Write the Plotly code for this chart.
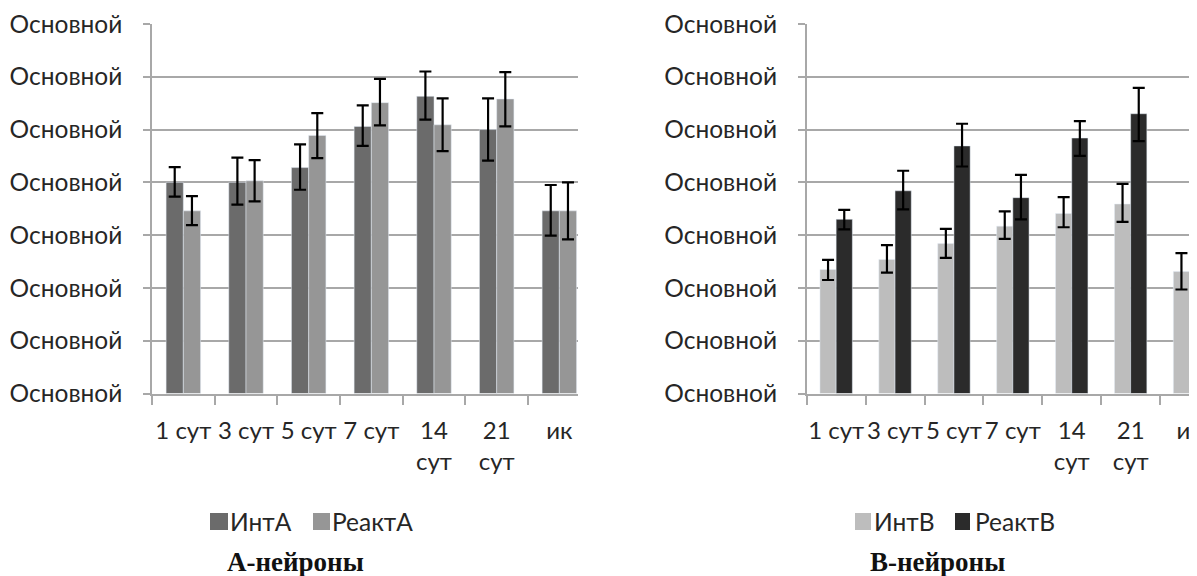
import plotly.graph_objects as go

W, H = 1197, 576
OFF = 8  # page body margin

categories = ["1 сут", "3 сут", "5 сут", "7 сут", "14 сут", "21 сут", "ик"]
tick_labels = ["1 сут", "3 сут", "5 сут", "7 сут", "14<br>сут", "21<br>сут", "ик"]
y_tick_values = [0, 1, 2, 3, 4, 5, 6, 7]
y_tick_labels = ["Основной"] * 8

# A-neurons
int_a = [4.00, 4.00, 4.28, 5.06, 5.63, 5.00, 3.46]
int_a_err_plus = [0.29, 0.47, 0.44, 0.40, 0.47, 0.59, 0.49]
int_a_err_minus = [0.27, 0.42, 0.42, 0.37, 0.44, 0.59, 0.47]
react_a = [3.46, 4.03, 4.89, 5.51, 5.09, 5.58, 3.46]
react_a_err_plus = [0.28, 0.39, 0.42, 0.45, 0.50, 0.51, 0.54]
react_a_err_minus = [0.27, 0.39, 0.43, 0.43, 0.50, 0.52, 0.54]

# B-neurons
int_b = [2.35, 2.54, 2.84, 3.17, 3.41, 3.59, 2.31]
int_b_err_plus = [0.18, 0.27, 0.28, 0.28, 0.31, 0.38, 0.35]
int_b_err_minus = [0.20, 0.25, 0.27, 0.24, 0.26, 0.34, 0.34]
react_b = [3.30, 3.84, 4.69, 3.71, 4.84, 5.30, 2.31]
react_b_err_plus = [0.18, 0.38, 0.42, 0.43, 0.32, 0.49, 0.50]
react_b_err_minus = [0.19, 0.35, 0.39, 0.41, 0.34, 0.52, 0.52]

series_names = ["ИнтА", "РеактА", "ИнтB", "РеактB"]
colors = ["#6b6b6b", "#969696", "#bdbdbd", "#2b2b2b"]
panel_titles = ["А-нейроны", "В-нейроны"]

FONT = "Lato"
TXT = "#262626"
GRID = "#a8a8a8"


def px(x):
    return (x - OFF) / W


def py(y):
    return 1 - (y - OFF) / H


def err(plus, minus):
    return dict(type="data", array=plus, arrayminus=minus, symmetric=False,
                color="black", thickness=2.2, width=6)


fig = go.Figure()
fig.add_trace(go.Bar(x=tick_labels, y=int_a, name=series_names[0], marker_color=colors[0],
                     error_y=err(int_a_err_plus, int_a_err_minus), xaxis="x", yaxis="y",
                     showlegend=False))
fig.add_trace(go.Bar(x=tick_labels, y=react_a, name=series_names[1], marker_color=colors[1],
                     error_y=err(react_a_err_plus, react_a_err_minus), xaxis="x", yaxis="y",
                     showlegend=False))
fig.add_trace(go.Bar(x=tick_labels, y=int_b, name=series_names[2], marker_color=colors[2],
                     error_y=err(int_b_err_plus, int_b_err_minus), xaxis="x2", yaxis="y2",
                     showlegend=False))
fig.add_trace(go.Bar(x=tick_labels, y=react_b, name=series_names[3], marker_color=colors[3],
                     error_y=err(react_b_err_plus, react_b_err_minus), xaxis="x2", yaxis="y2",
                     showlegend=False))

ydom = [py(393.5), py(24)]

xcommon = dict(type="category", showgrid=False, showline=True, linecolor=GRID, linewidth=1.5,
               ticks="outside", ticklen=10, tickcolor=GRID, tickwidth=1.5, tickson="boundaries",
               tickangle=0, tickfont=dict(family=FONT, size=24, color=TXT), fixedrange=True,
               zeroline=False, automargin=False, ticklabelstandoff=15)
ycommon = dict(range=[0, 7], tickvals=y_tick_values, ticktext=y_tick_labels, showgrid=True,
               gridcolor=GRID, gridwidth=1.5, showline=True, linecolor=GRID, linewidth=1.5,
               ticks="outside", ticklen=7, tickcolor=GRID, tickwidth=1.5,
               tickfont=dict(family=FONT, size=24.5, color=TXT), ticklabelstandoff=16,
               ticklabeloverflow="allow",
               zeroline=False, domain=ydom, automargin=False, fixedrange=True)

fig.update_layout(
    width=W, height=H, margin=dict(l=0, r=0, t=0, b=0, pad=0),
    paper_bgcolor="white", plot_bgcolor="white",
    barmode="group", bargap=0.45, bargroupgap=0,
    xaxis=dict(xcommon, domain=[px(152), px(578)], range=[-0.5, -0.5 + (578 - 152) / 62.67],
               anchor="y"),
    yaxis=dict(ycommon, anchor="x"),
    xaxis2=dict(xcommon, domain=[px(806.7), px(1197)], range=[-0.5, -0.5 + (1197 - 806.7) / 58.9],
                anchor="y2"),
    yaxis2=dict(ycommon, anchor="x2"),
)

# Legends (square swatch + text) and panel captions
legend_items = [
    (0, 210, 228, 228), (1, 313, 330, 330),
    (2, 855, 871, 872), (3, 955, 970, 973),
]
shapes = []
annotations = []
for idx, x0, x1, tx in legend_items:
    shapes.append(dict(type="rect", xref="paper", yref="paper", x0=px(x0), x1=px(x1),
                       y0=py(530), y1=py(513), fillcolor=colors[idx], line=dict(width=0)))
    annotations.append(dict(text=series_names[idx], xref="paper", yref="paper", x=px(tx), y=py(521),
                            xanchor="left", yanchor="middle", showarrow=False,
                            font=dict(family=FONT, size=24.5, color=TXT)))
for title, cx in zip(panel_titles, [295, 937]):
    annotations.append(dict(text="<b>" + title + "</b>", xref="paper", yref="paper", x=px(cx), y=py(562),
                            xanchor="center", yanchor="middle", showarrow=False,
                            font=dict(family="Liberation Serif", size=27, color="#111111")))

fig.update_layout(shapes=shapes, annotations=annotations)
fig.write_html("out.html")
